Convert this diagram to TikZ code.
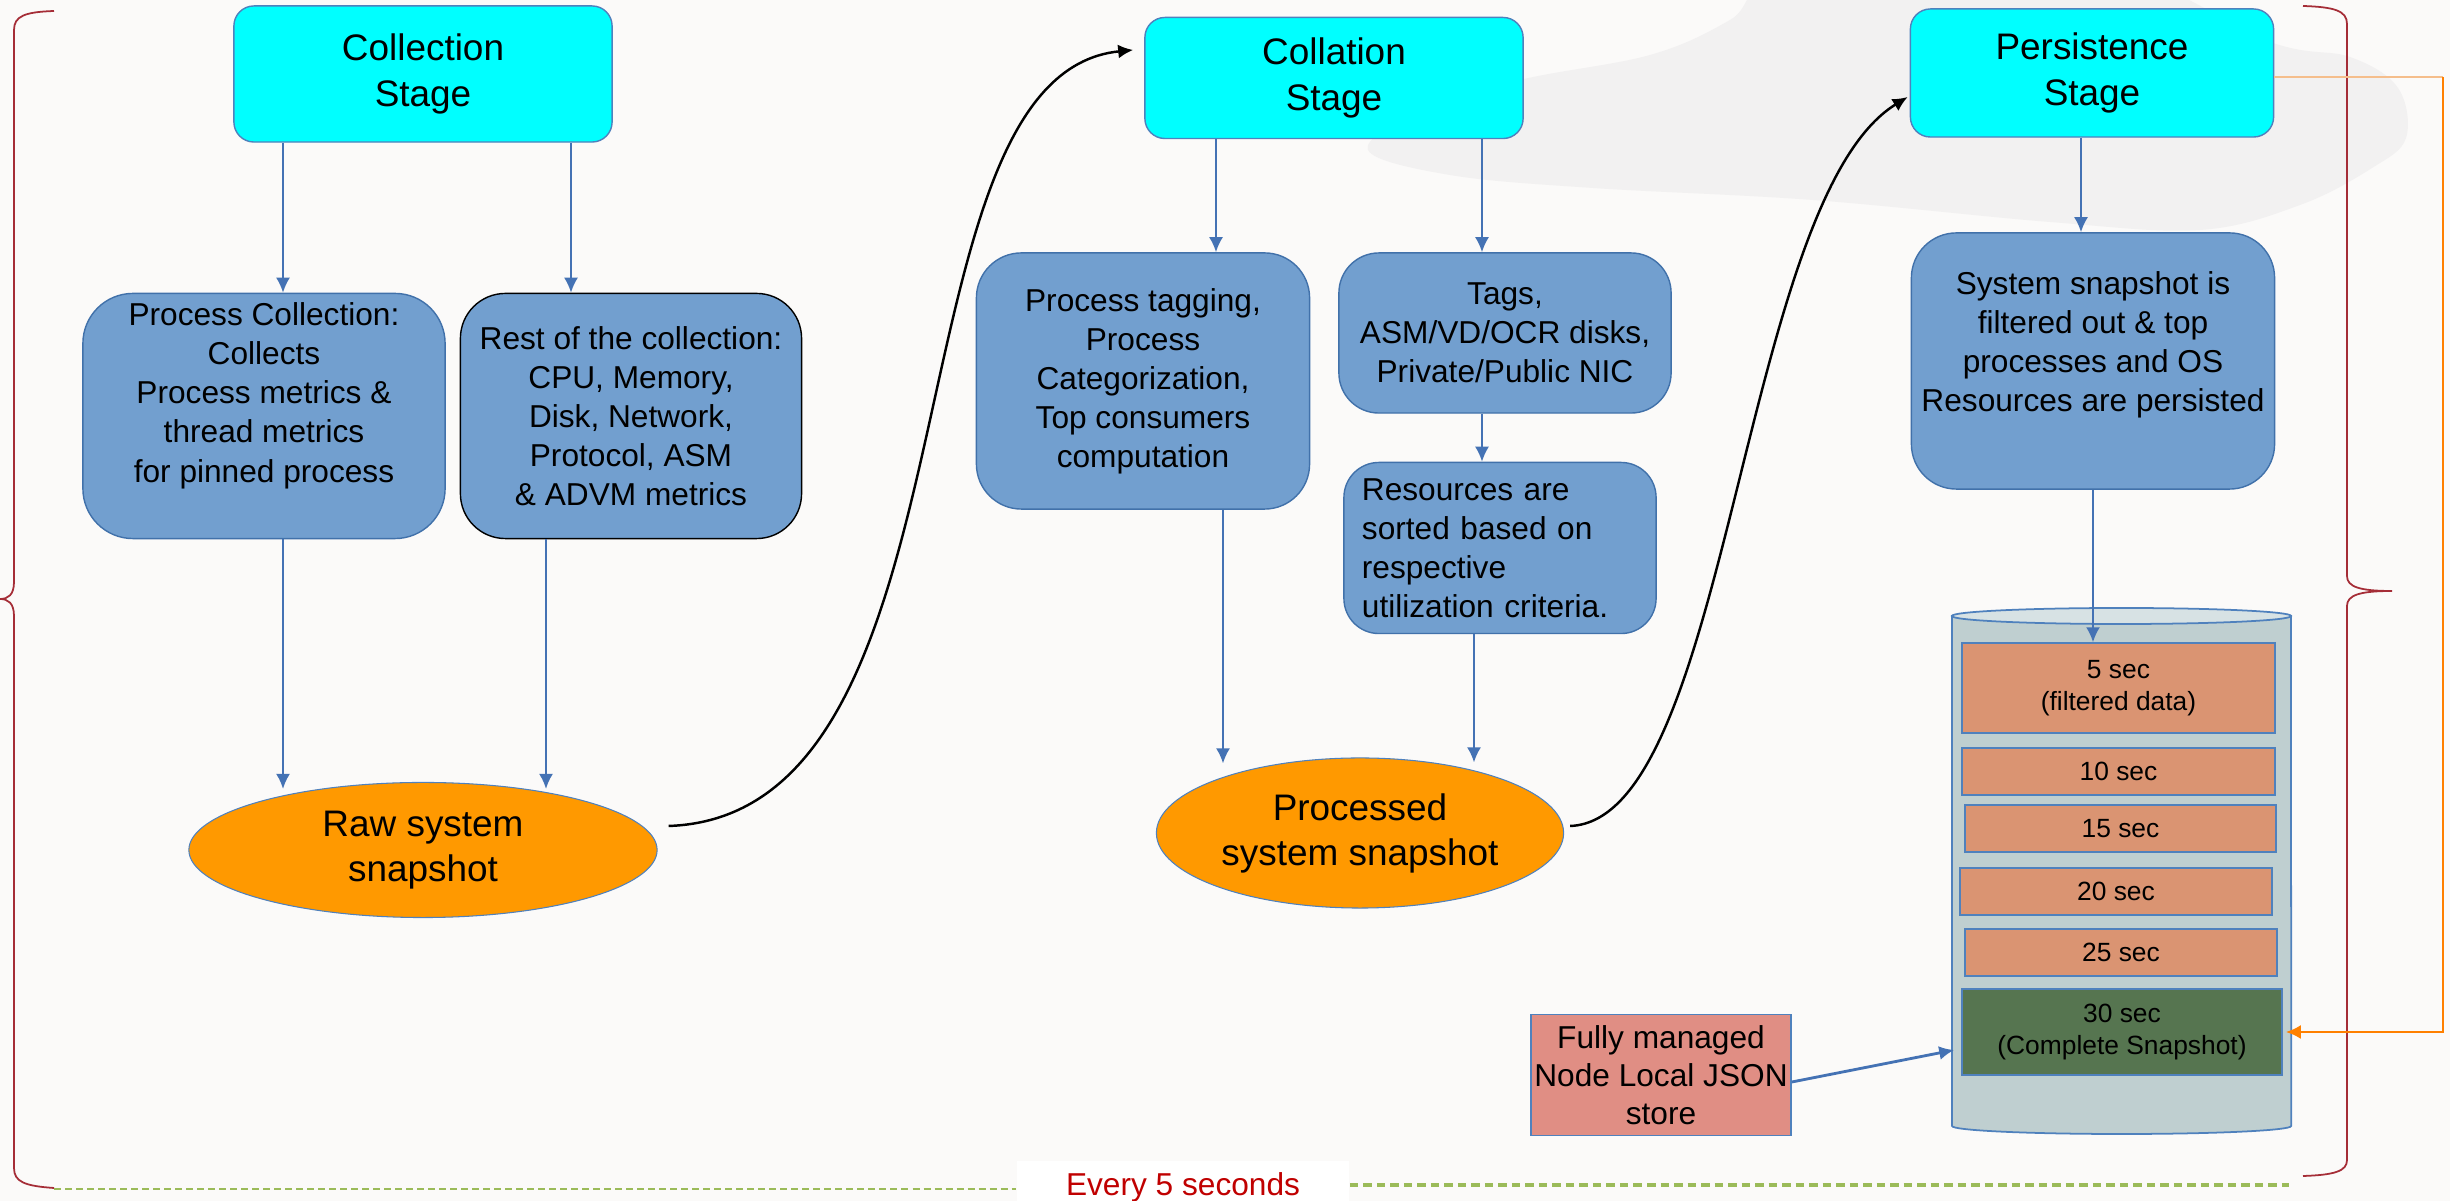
\documentclass[tikz,border=0pt]{standalone}
\usepackage{fontspec}
\setmainfont{Liberation Sans}
\usepackage{tikz}
\usetikzlibrary{arrows.meta}
\usetikzlibrary{positioning}
\usetikzlibrary{shapes.geometric}
\definecolor{pagebg}{RGB}{251,250,249}
\definecolor{blobgray}{RGB}{242,241,241}
\definecolor{stagecyan}{RGB}{0,255,255}
\definecolor{stageline}{RGB}{79,129,189}
\definecolor{boxblue}{RGB}{114,159,207}
\definecolor{boxline}{RGB}{65,113,170}
\definecolor{snaporange}{RGB}{255,153,0}
\definecolor{flowblue}{RGB}{68,114,180}
\definecolor{secorange}{RGB}{218,148,114}
\definecolor{secgreen}{RGB}{86,117,80}
\definecolor{cylbody}{RGB}{191,207,208}
\definecolor{cyltop}{RGB}{215,226,228}
\definecolor{jsonpink}{RGB}{224,142,132}
\definecolor{bracered}{RGB}{165,45,55}
\definecolor{dashgreen}{RGB}{155,187,89}
\definecolor{timered}{RGB}{192,0,0}
\definecolor{feedorange}{RGB}{255,128,0}
\definecolor{feedpale}{RGB}{245,190,140}
\tikzset{>={Latex[length=0.15cm,width=0.14cm]}}
\tikzstyle{stage} = [rectangle, rounded corners=0.2cm, draw=stageline, fill=stagecyan, line width=0.4pt, align=center, font=\fontsize{10.5}{13.3}\selectfont]
\tikzstyle{bluebox} = [rectangle, draw=boxline, fill=boxblue, line width=0.4pt, align=center, inner sep=0.05cm, font=\fontsize{9}{11.1}\selectfont]
\tikzstyle{snap} = [ellipse, draw=stageline, fill=snaporange, line width=0.3pt, align=center, inner sep=0pt, font=\fontsize{10.5}{12.8}\selectfont]
\tikzstyle{secbox} = [rectangle, draw=stageline, fill=secorange, line width=0.4pt, align=center, inner sep=0pt, font=\fontsize{7.5}{9}\selectfont]
\tikzstyle{flow} = [->, draw=flowblue, line width=0.6pt]
\tikzstyle{jump} = [->, draw=black, line width=0.7pt]
\tikzstyle{brace} = [draw=bracered, line width=0.5pt]

\begin{document}
\begin{tikzpicture}[x=0.01cm, y=-0.01cm]
\useasboundingbox (0,0) rectangle (2450,1201);
\fill [pagebg] (0,0) rectangle (2450,1201);
\begin{scope}
\clip (0,0) rectangle (2450,1201);
\fill [blobgray] plot [smooth cycle, tension=0.6] coordinates {(1368,150) (1420,112) (1520,80) (1650,55) (1730,20) (1800,-30) (2100,-30) (2270,42) (2350,57) (2398,88) (2406,138) (2372,168) (2300,205) (2200,230) (2050,222) (1813,200) (1593,188) (1450,175)};
\end{scope}

\draw [brace] (54,11) .. controls (25,12) and (14,16) .. (14,30) -- (14,582) .. controls (14,595) and (8,599) .. (0,599) .. controls (8,599) and (14,603) .. (14,616) -- (14,1168) .. controls (14,1182) and (25,1186) .. (54,1188);
\draw [brace] (2303,6) .. controls (2335,7) and (2347,11) .. (2347,24) -- (2347,576) .. controls (2347,587) and (2360,591) .. (2392,591) .. controls (2360,591) and (2347,595) .. (2347,606) -- (2347,1160) .. controls (2347,1171) and (2335,1175) .. (2303,1176);

\node [stage, minimum width=3.78cm, minimum height=1.36cm] (CS) at (423,74) {Collection\\Stage};
\node [bluebox, rounded corners=0.5cm, minimum width=3.62cm, minimum height=2.45cm] (PC) at (264,416) {Process Collection:\\Collects\\Process metrics \&\\thread metrics\\for pinned process\\[0.08cm]\mbox{}};
\node [bluebox, rounded corners=0.45cm, draw=black, minimum width=3.41cm, minimum height=2.45cm] (RC) at (631,416) {Rest of the collection:\\CPU, Memory,\\Disk, Network,\\Protocol, ASM\\\& ADVM metrics};
\node [snap, minimum width=4.68cm, minimum height=1.35cm] (RAW) at (423,850) {Raw system\\snapshot};

\node [stage, minimum width=3.78cm, minimum height=1.21cm] (LS) at (1334,78) {Collation\\Stage};
\node [bluebox, rounded corners=0.45cm, minimum width=3.33cm, minimum height=2.56cm] (PT) at (1143,381) {Process tagging,\\Process\\Categorization,\\Top consumers\\computation};
\node [bluebox, rounded corners=0.4cm, minimum width=3.32cm, minimum height=1.6cm] (TG) at (1505,333) {Tags,\\ASM/VD/OCR disks,\\Private/Public NIC};
\node [bluebox, rounded corners=0.35cm, align=left, text width=2.76cm, inner xsep=0.18cm, minimum height=1.71cm] (RS) at (1500,548) {Resources are\\sorted based on\\respective\\utilization criteria.};
\node [snap, minimum width=4.07cm, minimum height=1.5cm] (PRO) at (1360,833) {Processed\\system snapshot};

\node [stage, minimum width=3.63cm, minimum height=1.28cm] (PS) at (2092,73) {Persistence\\Stage};
\node [bluebox, rounded corners=0.45cm, minimum width=3.63cm, minimum height=2.56cm] (SS) at (2093,361) {System snapshot is\\filtered out \& top\\processes and OS\\Resources are persisted\\\mbox{}};

\filldraw [draw=stageline, fill=cylbody, line width=0.5pt] (1952,616) -- (1952,1126) arc [start angle=180, end angle=360, x radius=1.695cm, y radius=0.08cm] -- (2291,616) -- cycle;
\filldraw [draw=stageline, fill=cyltop, line width=0.5pt] (2121.5,616) ellipse [x radius=1.695cm, y radius=0.08cm];
\node [secbox, minimum width=3.13cm, minimum height=0.9cm] (S5) at (2118.5,688) {5 sec\\(filtered data)};
\node [secbox, minimum width=3.13cm, minimum height=0.47cm] (S10) at (2118.5,771.5) {10 sec};
\node [secbox, minimum width=3.11cm, minimum height=0.47cm] (S15) at (2120.5,828.5) {15 sec};
\node [secbox, minimum width=3.12cm, minimum height=0.47cm] (S20) at (2116,891.5) {20 sec};
\node [secbox, minimum width=3.12cm, minimum height=0.47cm] (S25) at (2121,952.5) {25 sec};
\node [secbox, fill=secgreen, minimum width=3.2cm, minimum height=0.86cm] (S30) at (2122,1032) {30 sec\\(Complete Snapshot)};
\node [rectangle, draw=stageline, fill=jsonpink, line width=0.4pt, align=center, inner sep=0pt, minimum width=2.6cm, minimum height=1.21cm, font=\fontsize{9}{10.8}\selectfont] (JS) at (1661,1075) {Fully managed\\Node Local JSON\\store};

\node [rectangle, fill=white, text=timered, minimum width=3.32cm, minimum height=0.5cm, font=\fontsize{9}{11}\selectfont] (EV) at (1183,1187) {Every 5 seconds};

\coordinate (cA) at (283,0);
\coordinate (cB) at (571,0);
\coordinate (cC) at (546,0);
\coordinate (cD) at (1216,0);
\coordinate (cE) at (1223,0);
\coordinate (cF) at (1482,0);
\coordinate (cG) at (1474,0);
\coordinate (cH) at (2081,0);
\coordinate (rim) at (2443,0);
\coordinate (LB) at (54,1189);
\coordinate (RB) at (2289,1185);

\draw [flow] (CS.south -| cA) -- (PC.north -| cA);
\draw [flow] (CS.south -| cB) -- (RC.north -| cB);
\draw [flow, shorten >=-0.07cm] (PC.south -| cA) -- (RAW.north -| cA);
\draw [flow, shorten >=-0.07cm] (RC.south -| cC) -- (RAW.north -| cC);
\draw [flow] (LS.south -| cD) -- (PT.north -| cD);
\draw [flow] (LS.south -| cF) -- (TG.north -| cF);
\draw [flow] (TG.south -| cF) -- (RS.north -| cF);
\draw [flow, shorten >=-0.06cm] (PT.south -| cE) -- (PRO.north -| cE);
\draw [flow, shorten >=-0.05cm] (RS.south -| cG) -- (PRO.north -| cG);
\draw [flow] (PS.south -| cH) -- (SS.north -| cH);
\draw [flow] (SS.south) -- (S5.north -| SS.south);
\draw [flow, line width=0.8pt] ([yshift=-0.07cm]JS.east) -- ([xshift=-0.07cm,yshift=-0.18cm]S30.west);

\draw [jump] ([xshift=0.11cm,yshift=0.24cm]RAW.east) .. controls (990,815) and (880,75) .. ([xshift=-0.11cm,yshift=0.28cm]LS.west);
\draw [jump] ([xshift=0.06cm,yshift=0.07cm]PRO.east) .. controls (1730,820) and (1740,200) .. ([xshift=-0.02cm,yshift=-0.24cm]PS.west);

\draw [draw=feedpale, line width=0.5pt] ([yshift=-0.04cm]PS.east) -- ([yshift=-0.04cm]PS.east -| rim);
\draw [->, draw=feedorange, line width=0.7pt] ([yshift=-0.04cm]PS.east -| rim) -- (rim |- S30.east) -- ([xshift=0.03cm]S30.east);

\draw [draw=dashgreen, line width=0.4pt, dash pattern=on 0.07cm off 0.04cm] (LB) -- (LB -| EV.west);
\draw [draw=dashgreen, line width=1.1pt, dash pattern=on 0.085cm off 0.05cm] (EV.east |- RB) -- (RB);
\end{tikzpicture}
\end{document}
